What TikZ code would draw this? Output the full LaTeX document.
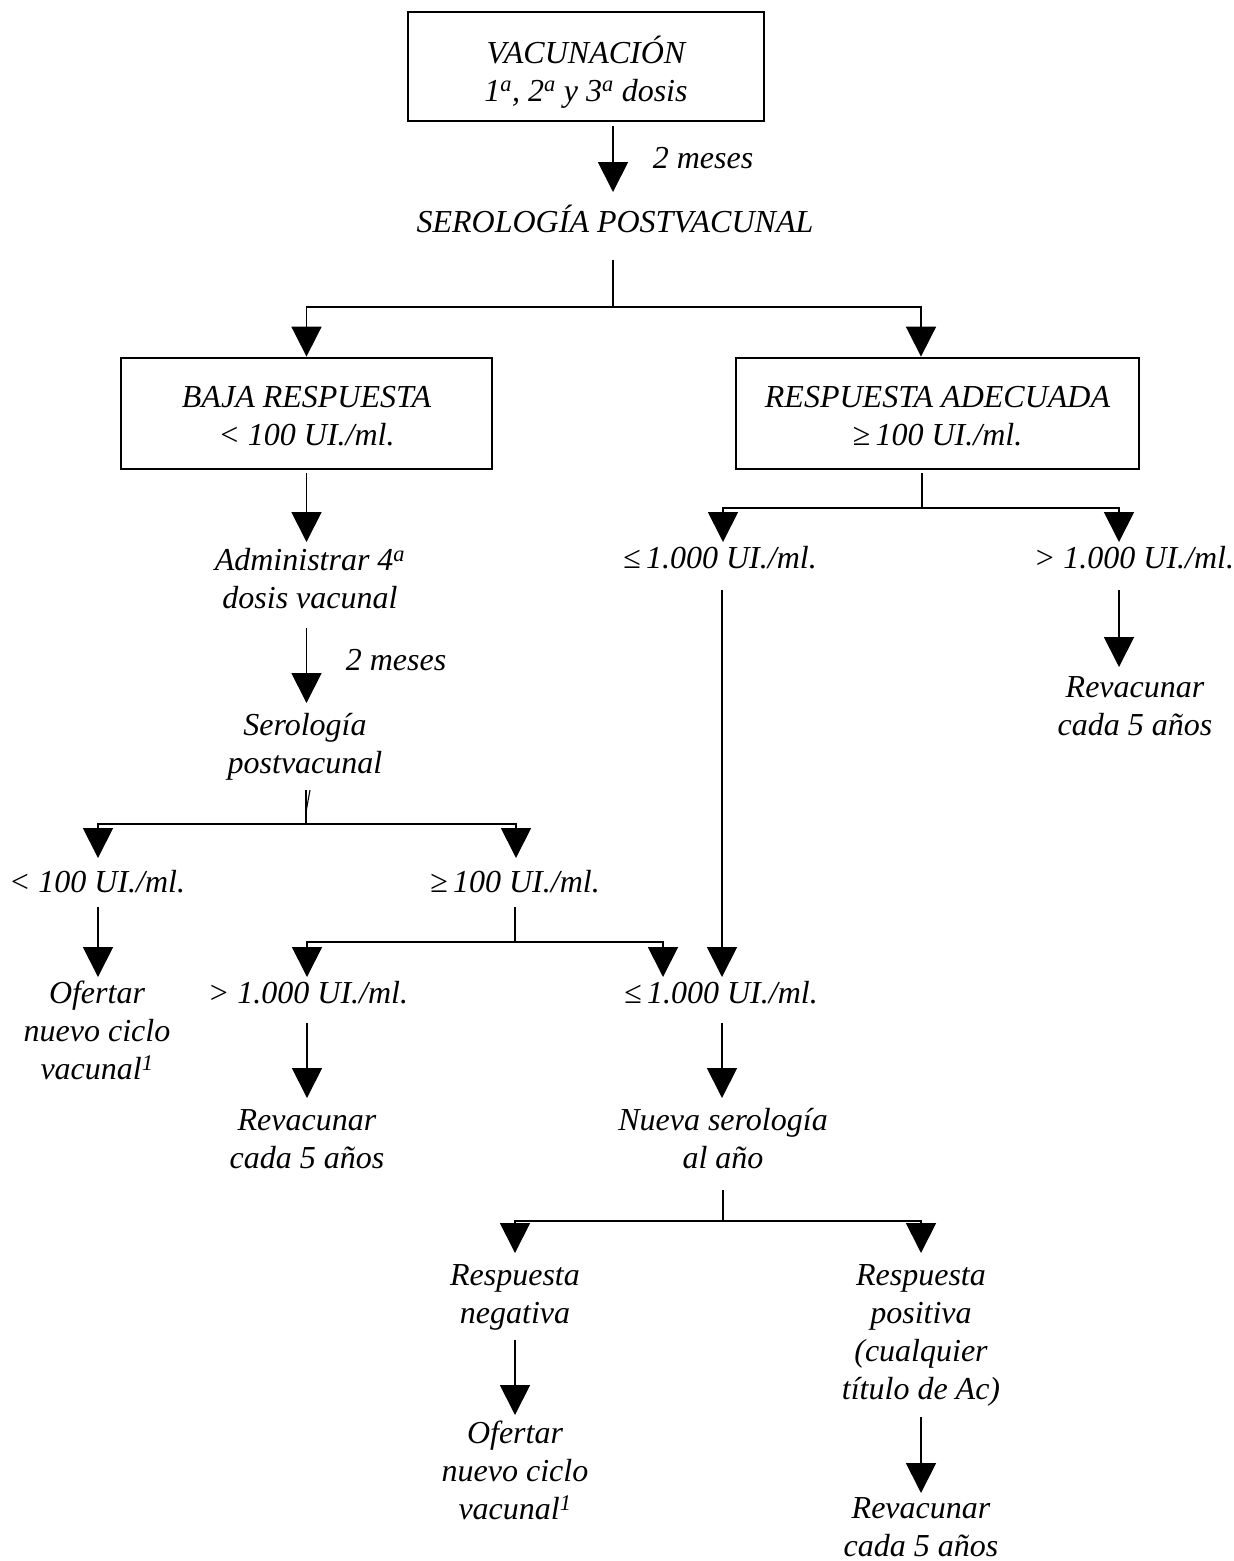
\documentclass[tikz,border=0pt]{standalone}
\usepackage{fontspec}
\setmainfont{Liberation Serif}
\usetikzlibrary{arrows.meta}
\newcommand{\tstr}{\rule{0pt}{23pt}}
\newcommand{\bstr}{\rule[-8pt]{0pt}{8pt}}
\newcommand{\hstr}[1]{\rule{0pt}{#1}}
\newcommand{\sa}{\textsuperscript{a}}
\begin{document}
\begin{tikzpicture}[x=1pt,y=-1pt,
  txt/.style={font=\fontsize{32pt}{38pt}\selectfont\itshape, align=center, inner sep=0pt, anchor=north},
  boxnode/.style={draw, line width=2.8pt, inner sep=0pt, font=\fontsize{32pt}{38pt}\selectfont\itshape, align=center},
  conn/.style={line width=1.8pt},
  arr/.style={conn, -{Triangle[width=30pt,length=30pt]}}]
\fill[white] (0,0) rectangle (1234,1561);
\useasboundingbox (0,0) rectangle (1234,1561);

% boxes
\node[boxnode, minimum width=356pt, minimum height=109pt] (vac) at (586,66.5)
  {\hstr{39pt}VACUNACIÓN\\1\sa, 2\sa{} y 3\sa{} dosis\bstr};
\node[boxnode, minimum width=371pt, minimum height=111pt] (baja) at (306.5,413.5)
  {\hstr{33pt}BAJA RESPUESTA\\< 100 UI./ml.\bstr};
\node[boxnode, minimum width=403pt, minimum height=111pt] (resp) at (937.5,413.5)
  {\hstr{33pt}RESPUESTA ADECUADA\\≥\,100 UI./ml.\bstr};

% text nodes (anchor north = first baseline - 23)
\node[txt] (mes1) at (703,145) {\tstr 2 meses\bstr};
\node[txt] (sero) at (615,205) {\tstr SEROLOGÍA POSTVACUNAL\bstr};
\node[txt] (adm) at (310,547) {\tstr Administrar 4\sa\\dosis vacunal\bstr};
\node[txt] (mes2) at (396,647) {\tstr 2 meses\bstr};
\node[txt] (sero2) at (305,712) {\tstr Serología\\postvacunal\bstr};
\node[txt] (lt100) at (97,869) {\tstr < 100 UI./ml.\bstr};
\node[txt] (ge100) at (515,869) {\tstr ≥\,100 UI./ml.\bstr};
\node[txt] (ofe1) at (97,980) {\tstr Ofertar\\nuevo ciclo\\vacunal\textsuperscript{1}\bstr};
\node[txt] (gt1000a) at (308,980) {\tstr > 1.000 UI./ml.\bstr};
\node[txt] (le1000b) at (721,980) {\tstr ≤\,1.000 UI./ml.\bstr};
\node[txt] (rev1) at (307,1107) {\tstr Revacunar\\cada 5 años\bstr};
\node[txt] (nueva) at (723,1107) {\tstr Nueva serología\\al año\bstr};
\node[txt] (le1000a) at (720,545) {\tstr ≤\,1.000 UI./ml.\bstr};
\node[txt] (gt1000b) at (1134,545) {\tstr > 1.000 UI./ml.\bstr};
\node[txt] (rev2) at (1135,674) {\tstr Revacunar\\cada 5 años\bstr};
\node[txt] (respneg) at (515,1262) {\tstr Respuesta\\negativa\bstr};
\node[txt] (ofe2) at (515,1420) {\tstr Ofertar\\nuevo ciclo\\vacunal\textsuperscript{1}\bstr};
\node[txt] (respos) at (921,1262) {\tstr Respuesta\\positiva\\(cualquier\\título de Ac)\bstr};
\node[txt] (rev3) at (921,1495) {\tstr Revacunar\\cada 5 años};

% junctions
\coordinate (j1) at (613,307);
\coordinate (j2) at (306,824);
\coordinate (j3) at (515,942);
\coordinate (j4) at (723,1221);
\coordinate (j5) at (922,508);

% connectors
\draw[arr] ([xshift=27pt,yshift=-4pt]vac.south) -- ([xshift=-2pt,yshift=13pt]sero.north);
\draw[conn] ([xshift=-2pt,yshift=-19pt]sero.south) -- (j1);
\draw[arr] (j1) -| (baja.north);
\draw[arr] (j1) -| ([xshift=-16.5pt]resp.north);

\draw[arr] ([yshift=-3pt]baja.south) -- ([yshift=5pt]adm.north -| baja.south);
\draw[arr] ([yshift=-12pt]adm.south -| baja.south) -- ([yshift=9pt]sero2.north -| baja.south);

\draw[conn] ([yshift=-9pt]sero2.south -| j2) -- (j2);
\draw[line width=1.1pt] ([yshift=12pt]j2) -- ([xshift=4pt,yshift=34pt]j2);
\draw[arr] (j2) -| ([xshift=1pt,yshift=11pt]lt100.north);
\draw[arr] (j2) -| ([xshift=1pt,yshift=11pt]ge100.north);
\draw[arr] ([xshift=1pt,yshift=-7pt]lt100.south) -- ([xshift=1pt,yshift=3pt]ofe1.north);

\draw[conn] ([yshift=-7pt]ge100.south) -- (j3);
\draw[arr] (j3) -| ([xshift=-1pt,yshift=3pt]gt1000a.north);
\draw[arr] (j3) -| ([xshift=-58pt,yshift=3pt]le1000b.north);
\draw[arr] ([xshift=-1pt,yshift=-12pt]gt1000a.south) -- ([yshift=9pt]rev1.north);
\draw[arr] ([xshift=1pt,yshift=-12pt]le1000b.south) -- ([xshift=-1pt,yshift=9pt]nueva.north);

\draw[conn] ([yshift=-14pt]nueva.south) -- (j4);
\draw[arr] (j4) -| ([yshift=9pt]respneg.north);
\draw[arr] (j4) -| ([yshift=9pt]respos.north);
\draw[arr] ([yshift=-9pt]respneg.south) -- ([yshift=5pt]ofe2.north);
\draw[arr] ([yshift=-10pt]respos.south) -- ([yshift=2pt]rev3.north);

\draw[conn] ([xshift=-15.5pt,yshift=-3pt]resp.south) -- (j5);
\draw[arr] (j5) -| ([xshift=3pt,yshift=3pt]le1000a.north);
\draw[arr] (j5) -| ([xshift=-15pt,yshift=3pt]gt1000b.north);
\draw[arr] ([xshift=2pt,yshift=-14pt]le1000a.south) -- ([xshift=1pt,yshift=3pt]le1000b.north);
\draw[arr] ([xshift=-15pt,yshift=-14pt]gt1000b.south) -- ([xshift=-16pt,yshift=7pt]rev2.north);
\end{tikzpicture}
\end{document}
